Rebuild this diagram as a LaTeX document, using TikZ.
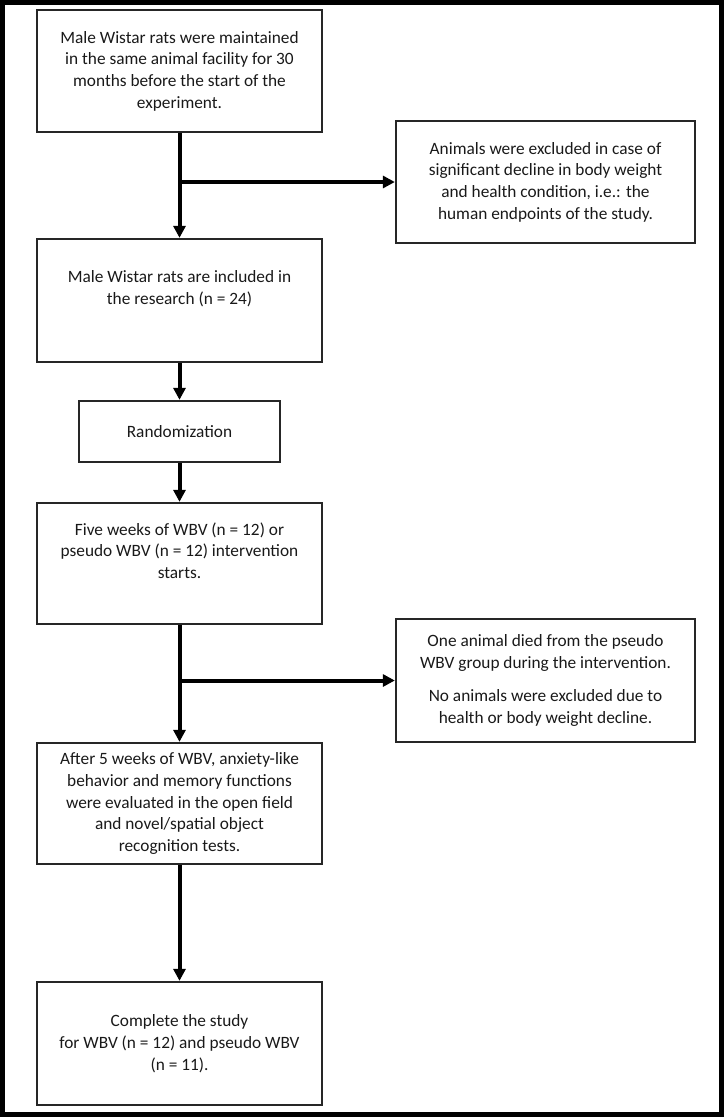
\documentclass[tikz,border=0pt]{standalone}
\usepackage{fontspec}
\setmainfont{Carlito}
\usetikzlibrary{arrows.meta}
\begin{document}
\begin{tikzpicture}[x=1pt,y=-1pt,
  box/.style={draw=black!85, line width=1.3pt, align=center, inner sep=0pt,
    font=\fontsize{17.3}{21.7}\selectfont, text=black!90},
  mainbox/.style={box, minimum width=285pt},
  sidebox/.style={box, minimum width=299pt},
  arr/.style={line width=4pt, -{Triangle[length=12pt,width=12pt]}, shorten >=0.5pt},
  frame/.style={line width=5pt}
]
\useasboundingbox (0,0) rectangle (724,1117);
\draw[frame] (2.5,2.5) rectangle (721.5,1114.5);

\node[mainbox, minimum height=122pt] (b1) at (179.5,71)
  {Male Wistar rats were maintained\\in the same animal facility for 30\\months before the start of the\\experiment.};
\node[sidebox, minimum height=122pt] (s1) at (545.5,182)
  {Animals were excluded in case of\\significant decline in body weight\\and health condition, i.e.: the\\human endpoints of the study.};
\node[mainbox, minimum height=123pt] (b2) at (179.5,300.5)
  {Male Wistar rats are included in\\the research (n = 24)\\[4pt]~};
\node[box, minimum width=201pt, minimum height=61pt] (r) at (179.5,431.5)
  {Randomization};
\node[mainbox, minimum height=121pt] (b3) at (179.5,563.5)
  {Five weeks of WBV (n = 12) or\\pseudo WBV (n = 12) intervention\\starts.\\[4pt]~};
\node[sidebox, minimum height=123pt] (s2) at (545.5,680.5)
  {One animal died from the pseudo\\WBV group during the intervention.\\[11pt]No animals were excluded due to\\health or body weight decline.};
\node[mainbox, minimum height=121pt] (b4) at (179.5,803.5)
  {After 5 weeks of WBV, anxiety-like\\behavior and memory functions\\were evaluated in the open field\\and novel/spatial object\\recognition tests.};
\node[mainbox, minimum height=123pt] (b5) at (179.5,1043.5)
  {Complete the study\\for WBV (n = 12) and pseudo WBV\\(n = 11).};

\draw[arr] (b1.south) -- (b2.north);
\draw[arr] (b1.south |- s1.west) -- (s1.west);
\draw[arr] (b2.south) -- (r.north);
\draw[arr] (r.south) -- (b3.north);
\draw[arr] (b3.south) -- (b4.north);
\draw[arr] (b3.south |- s2.west) -- (s2.west);
\draw[arr] (b4.south) -- (b5.north);
\end{tikzpicture}
\end{document}
